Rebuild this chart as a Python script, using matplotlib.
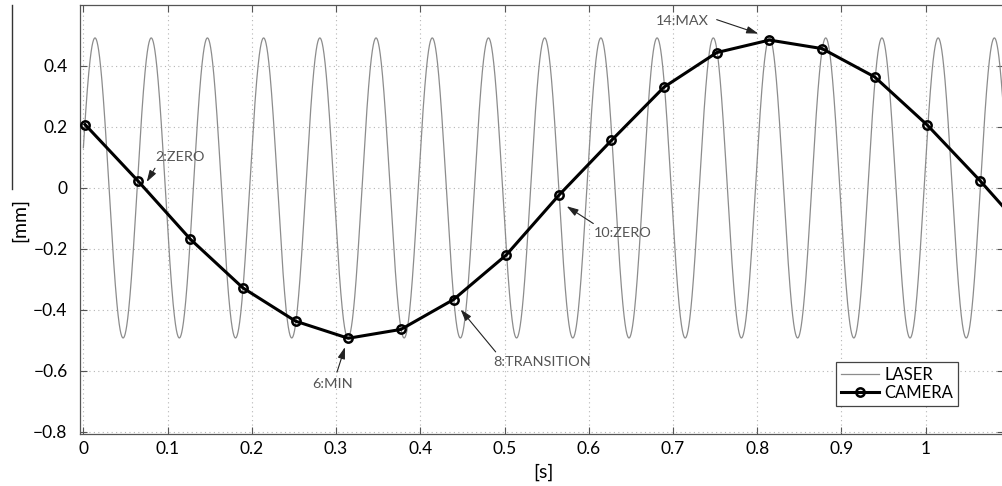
import numpy as np
import matplotlib
matplotlib.use("Agg")
import matplotlib.pyplot as plt
from matplotlib.lines import Line2D

plt.rcParams['font.family'] = ['Lato', 'DejaVu Sans']

# Camera samples (16 fps) of the vibrating target
camera_t = [0.002, 0.0645, 0.127, 0.1895, 0.252, 0.3145, 0.377, 0.4395,
            0.502, 0.5645, 0.627, 0.6895, 0.752, 0.8145, 0.877, 0.9395,
            1.002, 1.0645, 1.127]
camera_mm = [0.208, 0.024, -0.168, -0.328, -0.437, -0.493, -0.464, -0.366,
             -0.220, -0.024, 0.156, 0.331, 0.444, 0.485, 0.457, 0.364,
             0.206, 0.024, -0.170]

# Laser vibrometer reading: a pure sinusoid
laser_amplitude_mm = 0.492
laser_frequency_hz = 14.985
laser_peak_time_s = 0.0138
laser_span_s = (0.0, 1.10)

# Tick positions and labels
x_ticks = [0, 0.1, 0.2, 0.3, 0.4, 0.5, 0.6, 0.7, 0.8, 0.9, 1.0]
x_tick_labels = ["0", "0.1", "0.2", "0.3", "0.4", "0.5", "0.6", "0.7", "0.8", "0.9", "1"]
y_ticks = [-0.8, -0.6, -0.4, -0.2, 0, 0.2, 0.4]
y_tick_labels = ["\u22120.8", "\u22120.6", "\u22120.4", "\u22120.2", "0", "0.2", "0.4"]

# Annotations: label, text position, arrow tail, arrow tip
notes = [
    ("2:ZERO", (0.1147, 0.1007), (0.085, 0.0646), (0.0752, 0.0197)),
    ("6:MIN", (0.2957, -0.6436), (0.3011, -0.604), (0.3106, -0.522)),
    ("8:TRANSITION", (0.5444, -0.5705), (0.4895, -0.5377), (0.4479, -0.3987)),
    ("10:ZERO", (0.6406, -0.1475), (0.6054, -0.1167), (0.5738, -0.060)),
    ("14:MAX", (0.7113, 0.5475), (0.7519, 0.552), (0.8013, 0.5062)),
]

W, H = 1003, 486
fig = plt.figure(figsize=(W / 100, H / 100), dpi=100)
ax = fig.add_axes([80 / W, (H - 434) / H, (1004 - 80) / W, 429 / H])

t = np.linspace(laser_span_s[0], laser_span_s[1], 6000)
laser = laser_amplitude_mm * np.cos(2 * np.pi * laser_frequency_hz * (t - laser_peak_time_s))
ax.plot(t, laser, color="#8c8c8c", lw=0.9, label="LASER", zorder=2)
ax.plot(camera_t, camera_mm, color="black", lw=2.2, marker="o", ms=6,
        mfc="none", mec="black", mew=1.8, label="CAMERA", zorder=3)

ax.set_xlim(-0.004, 1.093)
ax.set_ylim(-0.807, 0.6)
ax.set_xticks(x_ticks)
ax.set_xticklabels(x_tick_labels)
ax.set_yticks(y_ticks)
ax.set_yticklabels(y_tick_labels)

ax.tick_params(axis="both", direction="in", length=5, width=0.8, color="#555555",
               labelsize=12.5, labelcolor="black", top=True, right=True)
ax.tick_params(axis="x", pad=5)
ax.tick_params(axis="y", pad=9)
for s in ax.spines.values():
    s.set_color("#555555")
    s.set_linewidth(0.9)

ax.grid(True, color="#b5b5b5", linestyle=(0, (1, 3)), linewidth=0.8)
ax.set_axisbelow(True)

for label, txy, tail, tip in notes:
    ax.annotate("", xy=tip, xytext=tail,
                arrowprops=dict(arrowstyle="-|>,head_length=0.7,head_width=0.22",
                                color="#222222", lw=0.8, shrinkA=0, shrinkB=0),
                zorder=4)
    ax.text(txy[0], txy[1], label, ha="center", va="center",
            fontsize=10.4, color="#555555", zorder=4)

leg = ax.legend(loc="lower left", bbox_to_anchor=(0.818, 0.0653), fontsize=12,
                frameon=True, fancybox=False, framealpha=1, edgecolor="#444444",
                handlelength=2.3, handletextpad=0.3, borderpad=0.3,
                labelspacing=0.12, borderaxespad=0)
leg.get_frame().set_linewidth(0.9)

fig.text(543 / W, 1 - 472 / H, "[s]", ha="center", va="center", fontsize=14)
fig.text(20 / W, 1 - 220 / H, "[mm]", ha="center", va="center", rotation=90, fontsize=14)
fig.add_artist(Line2D([12.3 / W, 12.3 / W], [1 - 5 / H, 1 - 189 / H],
                      transform=fig.transFigure, color="#333333", lw=1.0))

fig.savefig("out.png", dpi=100)
